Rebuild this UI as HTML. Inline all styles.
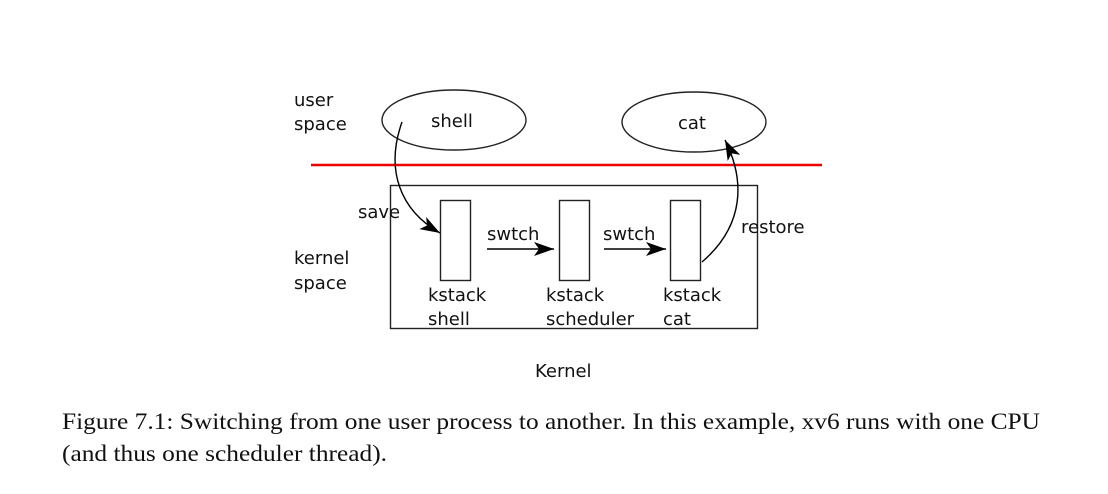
<!DOCTYPE html>
<html><head><style>
html,body{margin:0;padding:0;background:#fff;}
svg{display:block;}
.d{font-family:"DejaVu Sans","Liberation Sans",sans-serif;font-size:18px;fill:#111;}
.c{font-family:"Liberation Serif",serif;font-size:23px;fill:#111;}
</style></head><body>
<svg width="1108" height="494" viewBox="0 0 1108 494" xmlns="http://www.w3.org/2000/svg">
<defs>
<marker id="a" markerWidth="22" markerHeight="14" refX="20" refY="7" orient="auto" markerUnits="userSpaceOnUse">
<path d="M0,0 L20,7 L0,14 L5,7 Z" fill="#000"/>
</marker>
</defs>
<g fill="none" stroke="#222" stroke-width="1.4">
<ellipse cx="454" cy="120" rx="72" ry="30"/>
<ellipse cx="694" cy="122" rx="72" ry="30"/>
<rect x="390.5" y="185.5" width="367" height="143"/>
<rect x="440.5" y="200.5" width="30" height="80"/>
<rect x="559.5" y="200.5" width="30" height="80"/>
<rect x="670.5" y="200.5" width="30" height="80"/>
</g>
<line x1="311" y1="165" x2="822" y2="165" stroke="#e00" stroke-width="2.5"/>
<g fill="none" stroke="#000" stroke-width="1.4">
<path d="M402,122 C385,170 400,210 440,233" marker-end="url(#a)"/>
<line x1="487" y1="249" x2="554" y2="249" marker-end="url(#a)"/>
<line x1="604" y1="249" x2="666" y2="249" marker-end="url(#a)"/>
<path d="M702,262 C745,225 745,180 725,140" marker-end="url(#a)"/>
</g>
<text class="d" x="294" y="106">user</text>
<text class="d" x="294" y="130">space</text>
<text class="d" x="294" y="264">kernel</text>
<text class="d" x="294" y="289">space</text>
<text class="d" x="431" y="127">shell</text>
<text class="d" x="678" y="129">cat</text>
<text class="d" x="358" y="218">save</text>
<text class="d" x="741" y="233">restore</text>
<text class="d" x="487" y="240">swtch</text>
<text class="d" x="603" y="240">swtch</text>
<text class="d" x="428" y="301">kstack</text>
<text class="d" x="428" y="325">shell</text>
<text class="d" x="546" y="301">kstack</text>
<text class="d" x="546" y="325">scheduler</text>
<text class="d" x="663" y="301">kstack</text>
<text class="d" x="663" y="325">cat</text>
<text class="d" x="535" y="377">Kernel</text>
<text class="c" x="62" y="429" textLength="978" lengthAdjust="spacingAndGlyphs">Figure 7.1: Switching from one user process to another. In this example, xv6 runs with one CPU</text>
<text class="c" x="62" y="461" textLength="325" lengthAdjust="spacingAndGlyphs">(and thus one scheduler thread).</text>
</svg>
</body></html>
